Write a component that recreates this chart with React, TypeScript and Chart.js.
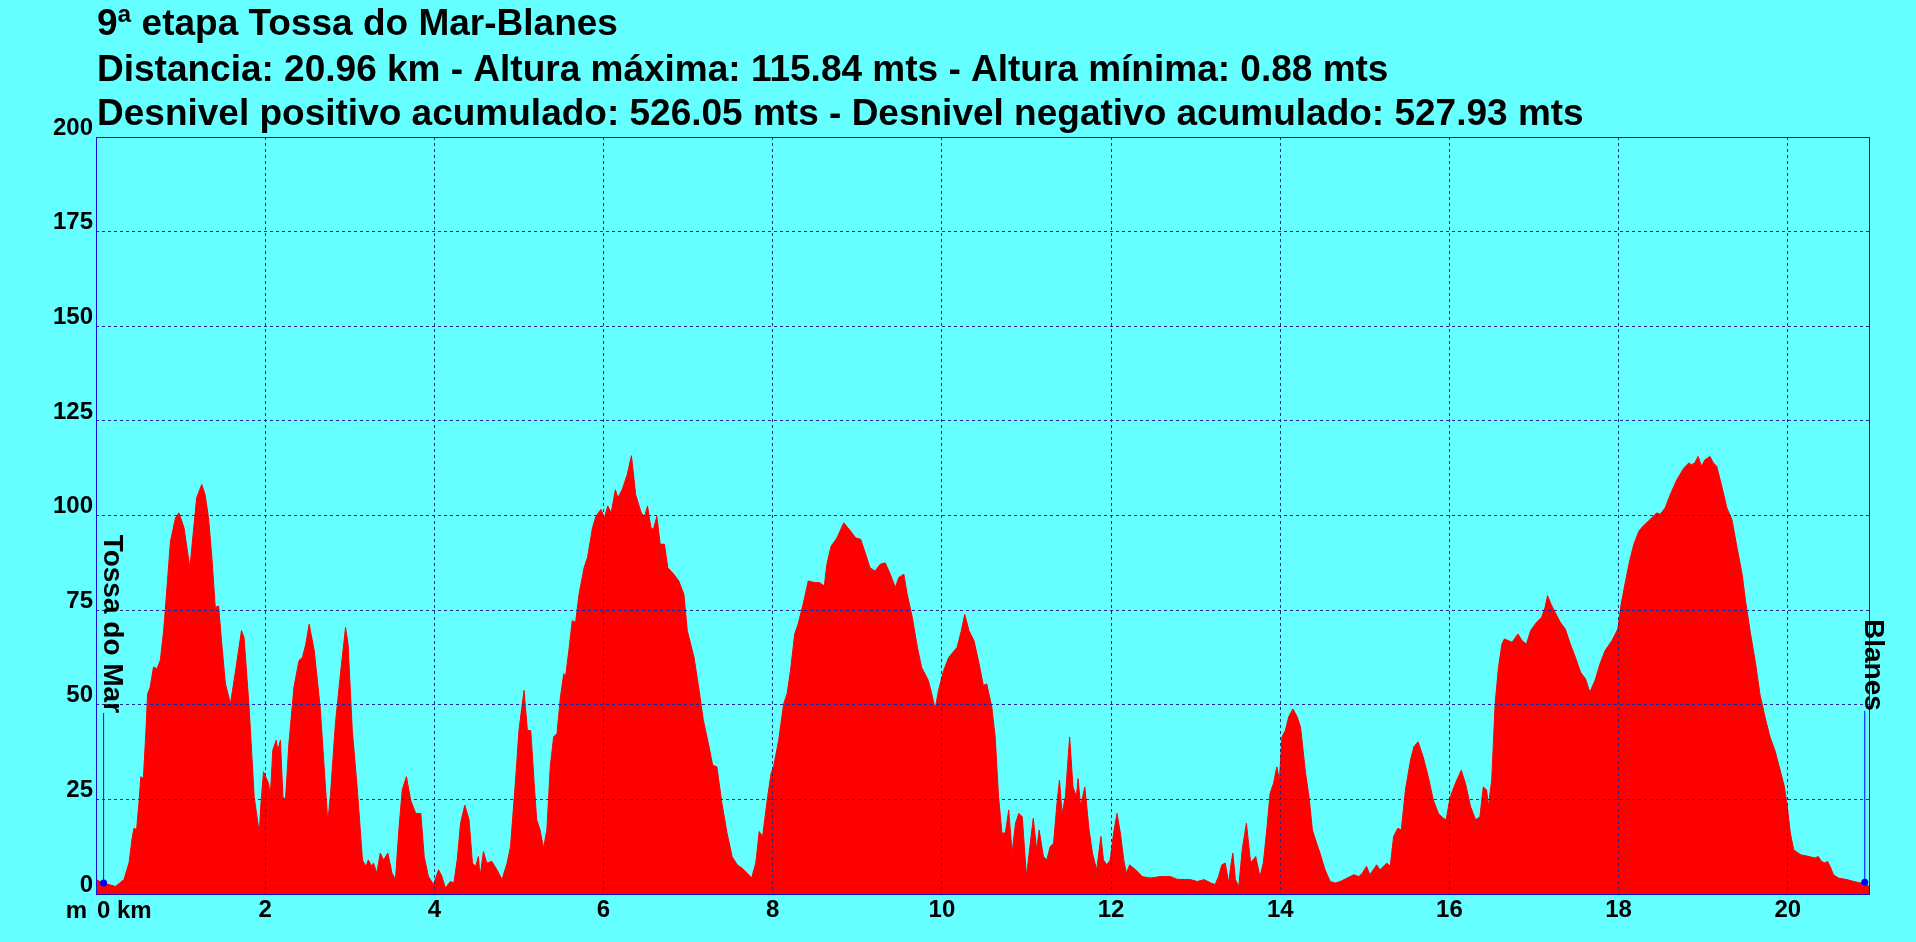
import React, { useEffect, useRef } from 'react';
import { Chart, registerables } from 'chart.js';

Chart.register(...registerables);

// ---- Text ----
const TITLE_LINES = [
  '9ª etapa Tossa do Mar-Blanes',
  'Distancia: 20.96 km - Altura máxima: 115.84 mts - Altura mínima: 0.88 mts',
  'Desnivel positivo acumulado: 526.05 mts - Desnivel negativo acumulado: 527.93 mts',
];
const Y_UNIT = 'm';
const X_FIRST_LABEL = '0 km';

// ---- Axes ----
const X_MAX = 20.96;
const X_TICKS = [0, 2, 4, 6, 8, 10, 12, 14, 16, 18, 20];
const Y_MAX = 200;
const Y_STEP = 25;

// ---- Profile (km, metres) ----
const distanceKm = [
  0.00, 0.09, 0.23, 0.33, 0.39, 0.43, 0.45, 0.48, 0.51, 0.53, 0.56, 0.59, 0.61, 0.64, 0.68, 0.72, 0.76, 0.80, 0.83, 0.88,
  0.94, 0.98, 1.04, 1.11, 1.14, 1.19, 1.25, 1.29, 1.33, 1.37, 1.41, 1.45, 1.48, 1.53, 1.59, 1.65, 1.72, 1.75, 1.81, 1.87,
  1.93, 1.95, 1.98, 2.04, 2.06, 2.09, 2.13, 2.15, 2.18, 2.21, 2.24, 2.28, 2.34, 2.40, 2.44, 2.48, 2.52, 2.58, 2.65, 2.71,
  2.74, 2.77, 2.83, 2.89, 2.95, 2.98, 3.03, 3.09, 3.15, 3.19, 3.22, 3.26, 3.28, 3.32, 3.36, 3.40, 3.45, 3.50, 3.54, 3.58,
  3.62, 3.67, 3.72, 3.78, 3.84, 3.88, 3.93, 3.99, 4.05, 4.09, 4.13, 4.19, 4.23, 4.27, 4.31, 4.36, 4.41, 4.45, 4.49, 4.52,
  4.54, 4.58, 4.62, 4.68, 4.74, 4.80, 4.86, 4.90, 4.96, 5.00, 5.06, 5.10, 5.14, 5.18, 5.21, 5.25, 5.29, 5.33, 5.37, 5.41,
  5.45, 5.49, 5.53, 5.55, 5.59, 5.63, 5.67, 5.71, 5.77, 5.81, 5.87, 5.91, 5.97, 6.01, 6.05, 6.09, 6.14, 6.17, 6.22, 6.28,
  6.33, 6.38, 6.44, 6.48, 6.52, 6.56, 6.59, 6.63, 6.67, 6.72, 6.76, 6.83, 6.89, 6.95, 6.99, 7.07, 7.13, 7.18, 7.24, 7.29,
  7.34, 7.40, 7.46, 7.52, 7.58, 7.64, 7.70, 7.75, 7.80, 7.84, 7.88, 7.94, 7.98, 8.01, 8.07, 8.13, 8.17, 8.21, 8.26, 8.30,
  8.36, 8.42, 8.49, 8.55, 8.61, 8.64, 8.69, 8.76, 8.84, 8.92, 8.98, 9.04, 9.10, 9.15, 9.21, 9.27, 9.33, 9.39, 9.45, 9.49,
  9.55, 9.59, 9.65, 9.71, 9.76, 9.84, 9.88, 9.92, 9.96, 10.02, 10.08, 10.18, 10.23, 10.27, 10.32, 10.38, 10.44, 10.49, 10.53, 10.59,
  10.63, 10.67, 10.71, 10.75, 10.79, 10.83, 10.87, 10.91, 10.95, 11.00, 11.04, 11.08, 11.12, 11.15, 11.20, 11.24, 11.28, 11.32, 11.36, 11.39,
  11.42, 11.46, 11.51, 11.55, 11.59, 11.61, 11.64, 11.69, 11.74, 11.78, 11.83, 11.88, 11.91, 11.95, 11.99, 12.03, 12.07, 12.11, 12.15, 12.18,
  12.22, 12.29, 12.37, 12.46, 12.58, 12.70, 12.78, 12.94, 13.02, 13.10, 13.18, 13.23, 13.27, 13.31, 13.35, 13.39, 13.42, 13.44, 13.47, 13.51,
  13.55, 13.60, 13.65, 13.71, 13.76, 13.80, 13.84, 13.88, 13.92, 13.96, 13.99, 14.02, 14.06, 14.10, 14.15, 14.20, 14.24, 14.30, 14.34, 14.38,
  14.43, 14.47, 14.53, 14.59, 14.65, 14.71, 14.79, 14.87, 14.93, 14.97, 15.02, 15.06, 15.14, 15.18, 15.22, 15.26, 15.30, 15.34, 15.39, 15.43,
  15.48, 15.54, 15.58, 15.63, 15.69, 15.75, 15.81, 15.87, 15.93, 15.96, 16.01, 16.07, 16.14, 16.19, 16.25, 16.31, 16.36, 16.40, 16.44, 16.46,
  16.50, 16.54, 16.58, 16.62, 16.65, 16.74, 16.81, 16.86, 16.91, 16.96, 17.03, 17.09, 17.13, 17.16, 17.20, 17.25, 17.31, 17.37, 17.43, 17.49,
  17.55, 17.61, 17.66, 17.72, 17.78, 17.84, 17.92, 17.99, 18.03, 18.09, 18.13, 18.18, 18.24, 18.29, 18.37, 18.45, 18.49, 18.55, 18.61, 18.69,
  18.77, 18.83, 18.86, 18.90, 18.94, 18.98, 19.02, 19.08, 19.12, 19.16, 19.22, 19.28, 19.34, 19.40, 19.46, 19.50, 19.56, 19.62, 19.67, 19.73,
  19.79, 19.85, 19.91, 19.96, 19.99, 20.03, 20.07, 20.15, 20.25, 20.32, 20.36, 20.40, 20.44, 20.47, 20.50, 20.54, 20.60, 20.70, 20.78, 20.86,
  20.91, 20.96,
];
const elevationM = [
  3.8, 2.9, 2.0, 3.8, 8.2, 15.2, 17.4, 17.0, 24.8, 31.0, 30.5, 43.0, 52.9, 54.6, 60.0, 59.5, 61.7, 69.6, 78.3, 93.2,
  99.4, 100.7, 96.8, 86.2, 93.2, 104.7, 108.2, 105.5, 99.4, 88.9, 75.7, 76.1, 67.8, 55.5, 50.3, 59.0, 69.6, 67.8, 49.4, 25.7,
  16.1, 23.9, 32.3, 29.2, 25.7, 38.0, 40.6, 38.0, 40.6, 25.7, 24.8, 39.7, 54.6, 61.7, 62.5, 66.0, 71.3, 64.3, 49.4, 29.2,
  19.1, 25.7, 45.0, 58.2, 70.4, 66.0, 43.2, 27.5, 9.0, 7.3, 9.0, 7.3, 8.2, 5.5, 10.8, 9.0, 10.8, 5.5, 3.8, 16.9,
  27.5, 31.0, 24.8, 21.3, 21.3, 9.9, 4.6, 2.5, 6.4, 4.6, 1.6, 3.3, 2.9, 9.0, 18.7, 23.5, 19.6, 8.2, 7.3, 9.9,
  4.6, 11.2, 8.2, 8.6, 6.4, 3.8, 8.2, 12.5, 30.1, 43.2, 53.8, 43.2, 43.2, 29.2, 19.6, 16.9, 12.1, 16.9, 33.6, 41.5,
  42.4, 52.0, 58.2, 57.3, 64.3, 72.2, 71.8, 79.2, 86.2, 88.9, 96.8, 99.8, 101.6, 99.4, 102.5, 100.7, 106.8, 104.7, 106.8, 110.8,
  115.8, 105.5, 101.1, 99.4, 102.5, 96.8, 96.3, 99.8, 92.4, 92.4, 86.2, 84.5, 82.7, 79.2, 69.6, 62.5, 53.8, 45.9, 39.7, 34.0,
  33.6, 23.9, 16.1, 9.9, 7.7, 6.8, 5.5, 4.2, 8.2, 16.5, 15.2, 25.7, 31.8, 33.6, 40.6, 50.3, 52.9, 59.0, 68.7, 71.3,
  76.6, 82.7, 82.3, 82.3, 81.4, 87.1, 91.9, 94.1, 98.1, 95.9, 94.1, 93.7, 89.7, 86.2, 85.3, 87.1, 87.5, 84.5, 81.0, 83.6,
  84.5, 79.2, 73.1, 65.2, 59.9, 56.4, 52.9, 48.9, 53.8, 59.0, 62.5, 65.2, 69.6, 73.9, 69.6, 66.9, 60.8, 55.1, 55.5, 49.4,
  41.5, 25.7, 16.1, 16.1, 22.2, 10.8, 18.7, 21.3, 20.4, 4.6, 12.5, 20.0, 11.7, 16.9, 9.9, 9.0, 12.5, 13.4, 23.9, 30.1,
  21.3, 25.7, 41.5, 28.3, 25.7, 30.5, 23.1, 28.3, 16.9, 10.8, 6.4, 15.2, 9.0, 7.7, 9.0, 16.1, 21.3, 16.1, 9.0, 5.5,
  7.7, 6.4, 4.6, 4.2, 4.6, 4.6, 3.9, 3.8, 3.3, 3.8, 2.9, 2.5, 4.6, 7.7, 8.2, 2.9, 8.2, 10.8, 3.8, 2.0,
  11.7, 18.7, 8.2, 9.9, 4.6, 8.2, 16.9, 26.6, 29.2, 33.6, 30.1, 41.5, 43.2, 46.8, 48.9, 46.8, 44.1, 31.8, 25.7, 16.9,
  13.4, 10.8, 6.4, 3.3, 2.9, 3.3, 4.2, 5.1, 4.6, 5.5, 7.3, 5.1, 7.7, 6.4, 7.3, 8.2, 7.3, 15.2, 17.4, 16.9,
  27.5, 35.4, 38.9, 40.2, 36.2, 31.0, 24.8, 21.3, 20.0, 19.6, 25.7, 29.2, 32.7, 29.2, 23.1, 19.6, 20.4, 28.3, 27.5, 23.1,
  30.1, 50.3, 59.9, 66.0, 67.4, 66.5, 68.7, 66.9, 66.0, 69.6, 71.8, 73.1, 75.7, 78.8, 76.6, 74.4, 71.8, 70.0, 66.0, 62.5,
  58.6, 56.8, 53.3, 56.4, 60.8, 64.3, 66.9, 70.0, 76.6, 83.6, 88.0, 92.4, 95.9, 97.2, 98.9, 100.7, 100.3, 102.0, 105.5, 109.5,
  112.5, 113.9, 113.4, 113.9, 115.6, 113.0, 114.7, 115.6, 113.9, 113.0, 107.7, 102.0, 98.9, 91.5, 84.5, 77.5, 68.7, 60.8, 52.9, 46.8,
  41.5, 37.8, 32.7, 28.3, 23.9, 16.1, 11.7, 10.4, 9.9, 9.5, 9.9, 8.6, 8.2, 8.6, 7.3, 5.1, 4.2, 3.8, 3.3, 2.9,
  3.1, 2.0,
];

// ---- Start / end markers ----
const markerNames = ['Tossa do Mar', 'Blanes'];
const markerKm = [0.09, 20.91];
const markerM = [2.9, 3.1];
const markerLabelEndM = [47.8, 48.4];

// ---- Styles ----
const BG = '#66ffff';
const FILL = '#ff0000';
const GRID = '#23239a';
const FRAME = '#1010d8';
const MARK = '#0000ff';
const FONT = '"Liberation Sans", Arial, sans-serif';

const overlayPlugin = {
  id: 'overlay',
  afterDraw(chart: any) {
    const { ctx, chartArea: a, scales } = chart;
    const x = scales.x;
    const y = scales.y;
    ctx.save();
    // frame
    const l = Math.round(a.left);
    const t = Math.round(a.top);
    const r = Math.round(a.right);
    const b = Math.round(a.bottom);
    ctx.strokeStyle = FRAME;
    ctx.lineWidth = 1;
    ctx.setLineDash([]);
    ctx.strokeRect(l + 0.5, t + 0.5, r - l, b - t);

    ctx.fillStyle = '#000';
    // title
    ctx.font = `bold 37px ${FONT}`;
    ctx.textAlign = 'left';
    ctx.textBaseline = 'alphabetic';
    const baselines = [35, 81, 125];
    TITLE_LINES.forEach((txt, i) => ctx.fillText(txt, a.left + 1, baselines[i]));

    // unit + first x label
    ctx.font = `bold 24px ${FONT}`;
    ctx.textAlign = 'right';
    ctx.fillText(Y_UNIT, a.left - 9, 918);
    ctx.textAlign = 'left';
    ctx.fillText(X_FIRST_LABEL, x.getPixelForValue(0) + 1, 918);

    // marker labels (rotated, reading downward)
    ctx.font = `bold 28px ${FONT}`;
    markerNames.forEach((name, i) => {
      const px = x.getPixelForValue(markerKm[i]);
      const py = y.getPixelForValue(markerLabelEndM[i]);
      ctx.save();
      ctx.translate(px, py);
      ctx.rotate(Math.PI / 2);
      ctx.textAlign = 'right';
      ctx.textBaseline = 'alphabetic';
      ctx.fillText(name, 0, 0);
      ctx.restore();
    });
    ctx.restore();
  },
};

export default function App() {
  const ref = useRef<HTMLCanvasElement | null>(null);

  useEffect(() => {
    if (!ref.current) return;
    const profile = distanceKm.map((d, i) => ({ x: d, y: elevationM[i] }));
    const markerSets = markerNames.map((name, i) => ({
      label: name,
      data: [
        { x: markerKm[i], y: markerM[i] },
        { x: markerKm[i], y: markerLabelEndM[i] },
      ],
      borderColor: MARK,
      borderWidth: 1,
      pointRadius: [3.5, 0],
      pointBackgroundColor: MARK,
      pointBorderWidth: 0,
      fill: false,
      order: 0,
    }));

    const chart = new Chart(ref.current, {
      type: 'line',
      data: {
        datasets: [
          {
            label: 'Altura',
            data: profile,
            borderColor: FILL,
            borderWidth: 1,
            backgroundColor: FILL,
            fill: 'origin',
            pointRadius: 0,
            tension: 0,
            order: 2,
          },
          ...markerSets,
        ] as any,
      },
      options: {
        animation: false,
        responsive: false,
        maintainAspectRatio: false,
        devicePixelRatio: 1,
        layout: { padding: { top: 137, left: 0, right: 47, bottom: 0 } },
        plugins: {
          legend: { display: false },
          tooltip: { enabled: false },
          title: { display: false },
        },
        scales: {
          x: {
            type: 'linear',
            min: 0,
            max: X_MAX,
            afterBuildTicks: (s: any) => {
              s.ticks = X_TICKS.map((v) => ({ value: v }));
            },
            afterFit: (s: any) => {
              s.height = 48;
            },
            ticks: {
              padding: 2,
              maxRotation: 0,
              autoSkip: false,
              color: '#000',
              font: { family: FONT, size: 24, weight: 'bold' },
              callback: (v: any) => (v === 0 ? '' : String(v)),
            },
            grid: { color: GRID, lineWidth: 1, drawTicks: false, z: 1 },
            border: { display: false, dash: [3, 3] },
          },
          y: {
            type: 'linear',
            min: 0,
            max: Y_MAX,
            afterFit: (s: any) => {
              s.width = 96;
            },
            ticks: {
              stepSize: Y_STEP,
              padding: 3,
              labelOffset: -9,
              color: '#000',
              font: { family: FONT, size: 24, weight: 'bold' },
            },
            grid: { color: GRID, lineWidth: 1, drawTicks: false, z: 1 },
            border: { display: false, dash: [3, 3] },
          },
        },
      } as any,
      plugins: [overlayPlugin],
    });
    return () => chart.destroy();
  }, []);

  return (
    <div style={{ position: 'fixed', left: 0, top: 0, width: 1916, height: 942, background: BG }}>
      <canvas ref={ref} width={1916} height={942} style={{ display: 'block', width: 1916, height: 942 }} />
    </div>
  );
}
